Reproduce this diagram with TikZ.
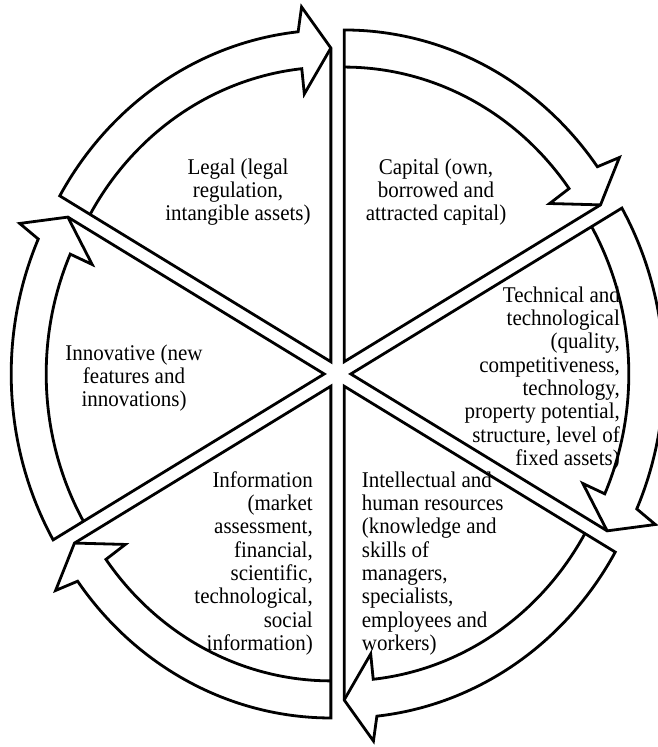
\documentclass[tikz,border=0pt]{standalone}
\usepackage{fontspec}
\setmainfont{Liberation Serif}
\begin{document}
\begin{tikzpicture}[x=1pt,y=1.06pt,
  wedge/.style={line width=2.8pt},
  txt/.style={inner sep=0pt,yscale=1.07,transform shape,font=\fontsize{21}{21.8}\selectfont}]
\useasboundingbox (-337.5,-351.9) rectangle (319.5,352.8);
\def\Rout{313}
\def\Rin{278}
\def\Rtip{296}
% six arrow sectors, clockwise
\foreach \ang in {0,60,...,300} {
\begin{scope}[shift={(\ang:13.3)}]
\draw[wedge] (0,0) -- ({\ang+30}:\Rout) arc[start angle={\ang+30}, end angle={\ang-24}, radius=\Rout]
  -- ({\ang-25}:336) -- ({\ang-30}:\Rtip) -- cycle;
\draw[wedge] ({\ang-30}:\Rtip) -- ({\ang-24}:254) -- ({\ang-24}:\Rin)
  arc[start angle={\ang-24}, end angle={\ang+30}, radius=\Rin];
\end{scope}
}
\node[txt,align=center] (legal) at (-99.5,171.7) {Legal (legal\\regulation,\\intangible assets)};
\node[txt,align=center] (capital) at (98.5,171.7) {Capital (own,\\borrowed and\\attracted capital)};
\node[txt,align=right,anchor=east] (tech) at (282.5,-4.2) {Technical and\\technological\\(quality,\\competitiveness,\\technology,\\property potential,\\structure, level of\\fixed assets)};
\node[txt,align=center] (innov) at (-203.5,-3.8) {Innovative (new\\features and\\innovations)};
\node[txt,align=right,anchor=east] (info) at (-24.5,-178.7) {Information\\(market\\assessment,\\financial,\\scientific,\\technological,\\social\\information)};
\node[txt,align=left,anchor=west] (intel) at (24.2,-178.7) {Intellectual and\\human resources\\(knowledge and\\skills of\\managers,\\specialists,\\employees and\\workers)};
\end{tikzpicture}
\end{document}
